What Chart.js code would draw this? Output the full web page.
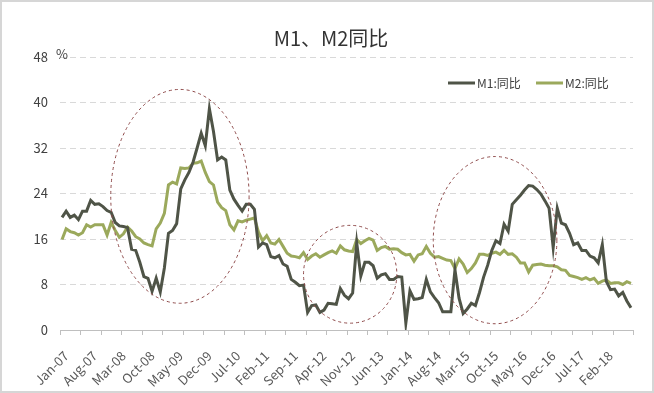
<!DOCTYPE html>
<html><head><meta charset="utf-8">
<script src="https://cdn.jsdelivr.net/npm/chart.js@4"></script>
<style>html,body{margin:0;padding:0;background:#fff}</style>
</head><body>
<canvas id="c" width="654" height="393"></canvas>
<script>
const monthNames = ['Jan','Feb','Mar','Apr','May','Jun','Jul','Aug','Sep','Oct','Nov','Dec'];
const yearLabels = ['07','08','09','10','11','12','13','14','15','16','17','18'];
const lastYearMonths = 8; // data runs Jan-07 .. Aug-18
const categories = [];
yearLabels.forEach((yy, yi) => {
  const n = yi === yearLabels.length - 1 ? lastYearMonths : 12;
  for (let m = 0; m < n; m++) categories.push(monthNames[m] + '-' + yy);
});

const m1 = [
  19.8,20.9,19.8,20.2,19.4,20.9,20.9,22.8,22.1,22.2,21.7,21.0,
  20.7,18.9,18.3,18.2,18.0,14.2,14.0,11.9,9.4,9.1,6.8,9.1,
  6.7,10.9,17.0,17.5,18.7,24.8,26.4,27.7,29.5,32.0,34.6,32.4,
  38.9,34.9,29.9,30.4,29.9,24.6,23.0,21.9,20.9,22.1,22.1,21.2,
  14.6,15.3,15.0,12.9,12.7,13.1,11.6,11.2,8.9,8.4,7.8,7.9,
  3.1,4.3,4.4,3.1,3.5,4.7,4.6,4.5,7.3,6.1,5.5,6.5,
  15.3,9.5,11.9,11.9,11.3,9.1,9.7,9.9,8.9,8.9,9.4,9.3,
  1.2,6.9,5.4,5.5,5.7,8.9,6.7,5.7,4.8,3.2,3.2,3.2,
  10.6,5.6,2.9,3.7,4.7,4.3,6.6,9.3,11.4,14.0,15.7,15.2,
  18.6,17.4,22.1,22.9,23.7,24.6,25.4,25.3,24.7,23.9,22.7,21.4,
  14.5,21.4,18.8,18.5,17.0,15.0,15.3,14.0,14.0,13.0,12.7,11.8,
  15.0,8.5,7.1,7.2,6.0,6.6,5.1,3.9
];
const m2 = [
  15.9,17.8,17.3,17.1,16.7,17.1,18.5,18.1,18.5,18.5,18.5,16.7,
  18.9,17.5,16.3,16.9,18.1,17.4,16.4,16.0,15.3,15.0,14.8,17.8,
  18.8,20.5,25.5,26.0,25.7,28.5,28.4,28.5,29.3,29.4,29.7,27.7,
  26.1,25.5,22.5,21.5,21.0,18.5,17.6,19.2,19.0,19.3,19.5,19.7,
  17.2,15.7,16.6,15.3,15.1,15.9,14.7,13.5,13.0,12.9,12.7,13.6,
  12.4,13.0,13.4,12.8,13.2,13.6,13.9,13.5,14.8,14.1,13.9,13.8,
  15.9,15.2,15.7,16.1,15.8,14.0,14.5,14.7,14.2,14.3,14.2,13.6,
  13.2,13.3,12.1,13.2,13.4,14.7,13.5,12.8,12.9,12.6,12.3,12.2,
  10.8,12.5,11.6,10.1,10.8,11.8,13.3,13.3,13.1,13.5,13.7,13.3,
  14.0,13.3,13.4,12.8,11.8,11.8,10.2,11.4,11.5,11.6,11.4,11.3,
  11.3,11.1,10.6,10.5,9.6,9.4,9.2,8.9,9.2,8.8,9.1,8.2,
  8.6,8.8,8.2,8.3,8.3,8.0,8.5,8.2
];
const seriesNames = ['M1:同比', 'M2:同比'];
const titleText = 'M1、M2同比';
const unitText = '%';
const yMin = 0, yMax = 48, yStep = 8;
const labelEvery = 7, tickMarkEvery = 5;

const CJK = '"Microsoft YaHei","Noto Sans CJK SC","Noto Sans",sans-serif';
const colM1 = '#4f5447', colM2 = '#9ba95c';

const decor = {
  id: 'decor',
  afterDatasetsDraw(chart) {
    const ctx = chart.ctx, xs = chart.scales.x, ys = chart.scales.y;
    // dashed ellipses (annotation, in data units)
    const ellipses = [
      {cx: 28.8, cy: 23.5, rx: 16.9, ry: 18.8},
      {cx: 70.4, cy: 9.8, rx: 11.4, ry: 8.6},
      {cx: 105.8, cy: 15.8, rx: 15.1, ry: 14.7}
    ];
    ctx.save();
    ctx.strokeStyle = '#8e4a4a';
    ctx.lineWidth = 1;
    ctx.setLineDash([3, 3]);
    ellipses.forEach(e => {
      const cx = xs.getPixelForValue(e.cx), cy = ys.getPixelForValue(e.cy);
      const rx = Math.abs(xs.getPixelForValue(e.cx + e.rx) - cx);
      const ry = Math.abs(ys.getPixelForValue(e.cy + e.ry) - cy);
      ctx.beginPath();
      ctx.ellipse(cx, cy, rx, ry, 0, 0, Math.PI * 2);
      ctx.stroke();
    });
    ctx.restore();
  },
  afterDraw(chart) {
    const ctx = chart.ctx, xs = chart.scales.x, ca = chart.chartArea;
    ctx.save();
    // x tick marks at category boundaries
    ctx.strokeStyle = '#bfbfbf';
    ctx.lineWidth = 1;
    for (let i = 0; i <= categories.length; i += tickMarkEvery) {
      const x = Math.round(xs.getPixelForValue(i - 0.5)) + 0.5;
      ctx.beginPath(); ctx.moveTo(x, ca.bottom); ctx.lineTo(x, ca.bottom + 5); ctx.stroke();
    }
    // title
    ctx.fillStyle = '#333';
    ctx.font = '20px ' + CJK;
    ctx.textAlign = 'center'; ctx.textBaseline = 'middle';
    ctx.fillText(titleText, 331, 38);
    // unit
    ctx.font = '13px ' + CJK;
    ctx.textAlign = 'left';
    ctx.fillStyle = '#404040';
    ctx.fillText(unitText, 56, 54);
    // legend
    const items = [{x: 448, c: colM1, t: seriesNames[0]}, {x: 536, c: colM2, t: seriesNames[1]}];
    ctx.font = '12px ' + CJK;
    items.forEach(it => {
      ctx.strokeStyle = it.c; ctx.lineWidth = 3;
      ctx.beginPath(); ctx.moveTo(it.x, 83); ctx.lineTo(it.x + 27, 83); ctx.stroke();
      ctx.fillStyle = '#404040';
      ctx.fillText(it.t, it.x + 29, 83);
    });
    // outer frame
    ctx.strokeStyle = '#d6d6d6'; ctx.lineWidth = 2;
    ctx.strokeRect(1, 1, 652, 391);
    ctx.restore();
  }
};

new Chart(document.getElementById('c'), {
  type: 'line',
  data: {
    labels: categories,
    datasets: [
      {label: seriesNames[0], data: m1, borderColor: colM1, backgroundColor: colM1, borderWidth: 3, pointRadius: 0, tension: 0},
      {label: seriesNames[1], data: m2, borderColor: colM2, backgroundColor: colM2, borderWidth: 3, pointRadius: 0, tension: 0}
    ]
  },
  options: {
    responsive: false,
    animation: false,
    devicePixelRatio: 1,
    layout: {padding: {top: 57, right: 21, left: 0, bottom: 0}},
    plugins: {legend: {display: false}, title: {display: false}, tooltip: {enabled: false}},
    scales: {
      x: {
        type: 'category',
        offset: true,
        grid: {display: false, offset: true},
        border: {display: true, color: '#bfbfbf', width: 1},
        ticks: {
          autoSkip: false, maxRotation: 45, minRotation: 45, padding: 10, labelOffset: 4,
          color: '#595959', font: {size: 13, family: CJK},
          callback: (v, i) => (i % labelEvery === 0 ? categories[i] : '')
        },
        afterFit(s) { s.height = 63; }
      },
      y: {
        min: yMin, max: yMax,
        ticks: {stepSize: yStep, color: '#404040', font: {size: 13, family: CJK}, padding: 12},
        grid: {drawTicks: false, color: c => (c.tick && c.tick.value === 0 ? 'rgba(0,0,0,0)' : '#d9d9d9')},
        border: {display: false, dash: [6, 4]},
        afterFit(s) { s.width = 60; }
      }
    }
  },
  plugins: [decor]
});
</script>
</body></html>
